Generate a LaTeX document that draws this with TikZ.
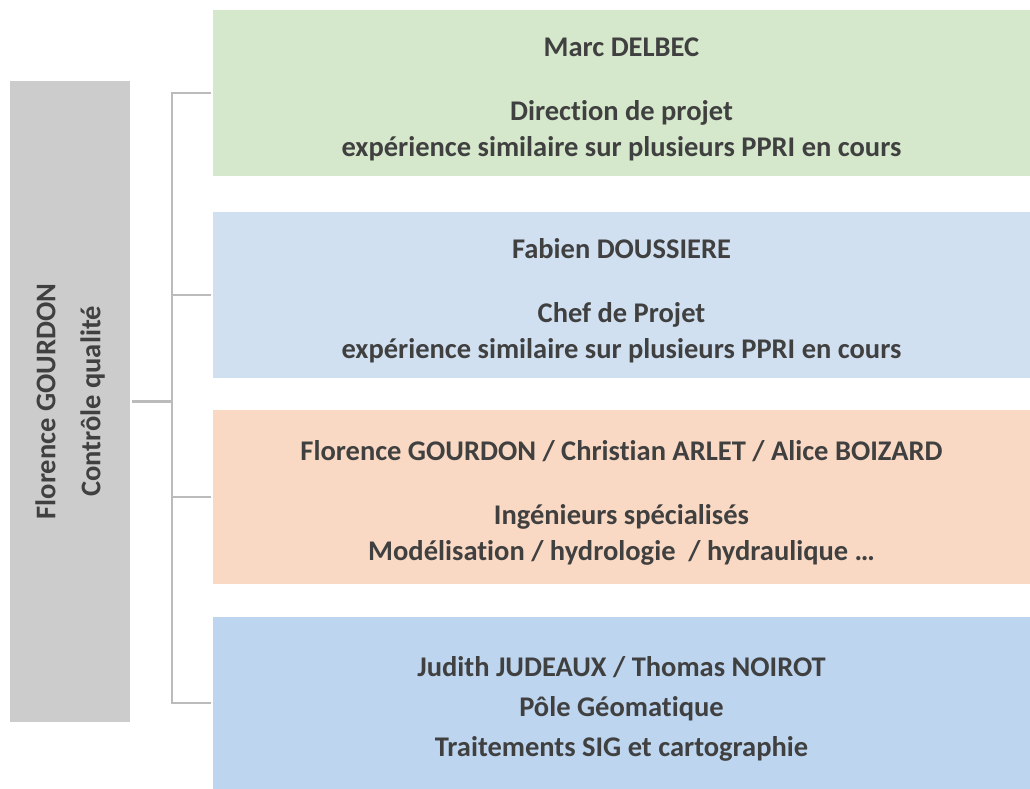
\documentclass[tikz,border=0pt]{standalone}
\usepackage{fontspec}
\setmainfont{Carlito}[Ligatures=NoCommon]
\definecolor{boxgreen}{HTML}{D5E8CB}
\definecolor{boxlblue}{HTML}{D0E0F1}
\definecolor{boxpeach}{HTML}{F9D9C4}
\definecolor{boxblue}{HTML}{BDD5EE}
\definecolor{bargray}{HTML}{CCCCCC}
\definecolor{linegray}{HTML}{BBBBBB}
\definecolor{txt}{HTML}{404040}
\newcommand{\toplift}{\rule{0pt}{32pt}}
\tikzset{
  rolebox/.style={draw=none, inner sep=0pt, minimum width=817pt, align=center,
    text=txt, font=\bfseries\fontsize{28.5}{36}\selectfont},
  conn/.style={draw=linegray, line width=2.8pt},
}
\begin{document}
\begin{tikzpicture}[x=1pt,y=-1pt]
\useasboundingbox (0,0) rectangle (1030,789);
% left gray bar
\node[fill=bargray, inner sep=0pt, minimum width=120pt, minimum height=641pt] (q) at (70,401.5) {};
\node[rotate=90, align=center, text=txt, font=\bfseries\fontsize{28.5}{36}\selectfont] (qt) at (q.center)
  {Florence GOURDON\\[9pt]Contr\^ole qualit\'e};
% boxes
\node[rolebox, fill=boxgreen, minimum height=166pt] (b1) at (621.5,93)
  {\toplift Marc DELBEC\\[28pt]Direction de projet\\exp\'erience similaire sur plusieurs PPRI en cours};
\node[rolebox, fill=boxlblue, minimum height=166pt] (b2) at (621.5,295)
  {\toplift Fabien DOUSSIERE\\[28pt]Chef de Projet\\exp\'erience similaire sur plusieurs PPRI en cours};
\node[rolebox, fill=boxpeach, minimum height=174pt] (b3) at (621.5,497)
  {\toplift Florence GOURDON / Christian ARLET / Alice BOIZARD\\[28pt]Ing\'enieurs sp\'ecialis\'es\\Mod\'elisation / hydrologie~~/ hydraulique \dots};
\node[rolebox, fill=boxblue, minimum height=172pt] (b4) at (621.5,703)
  {\toplift Judith JUDEAUX / Thomas NOIROT\\[4pt]P\^ole G\'eomatique\\[4pt]Traitements SIG et cartographie};
% connectors
\coordinate (jx) at (172,0);
\draw[conn, shorten <=2pt] (q.east) -- (q.east -| jx);
\draw[conn, line join=miter, shorten <=2pt] (b1.west) -- (b1.west -| jx) -- (b4.west -| jx) -- ([xshift=-2pt]b4.west);
\draw[conn, shorten <=2pt] (b2.west) -- (b2.west -| jx);
\draw[conn, shorten <=2pt] (b3.west) -- (b3.west -| jx);
\end{tikzpicture}
\end{document}
